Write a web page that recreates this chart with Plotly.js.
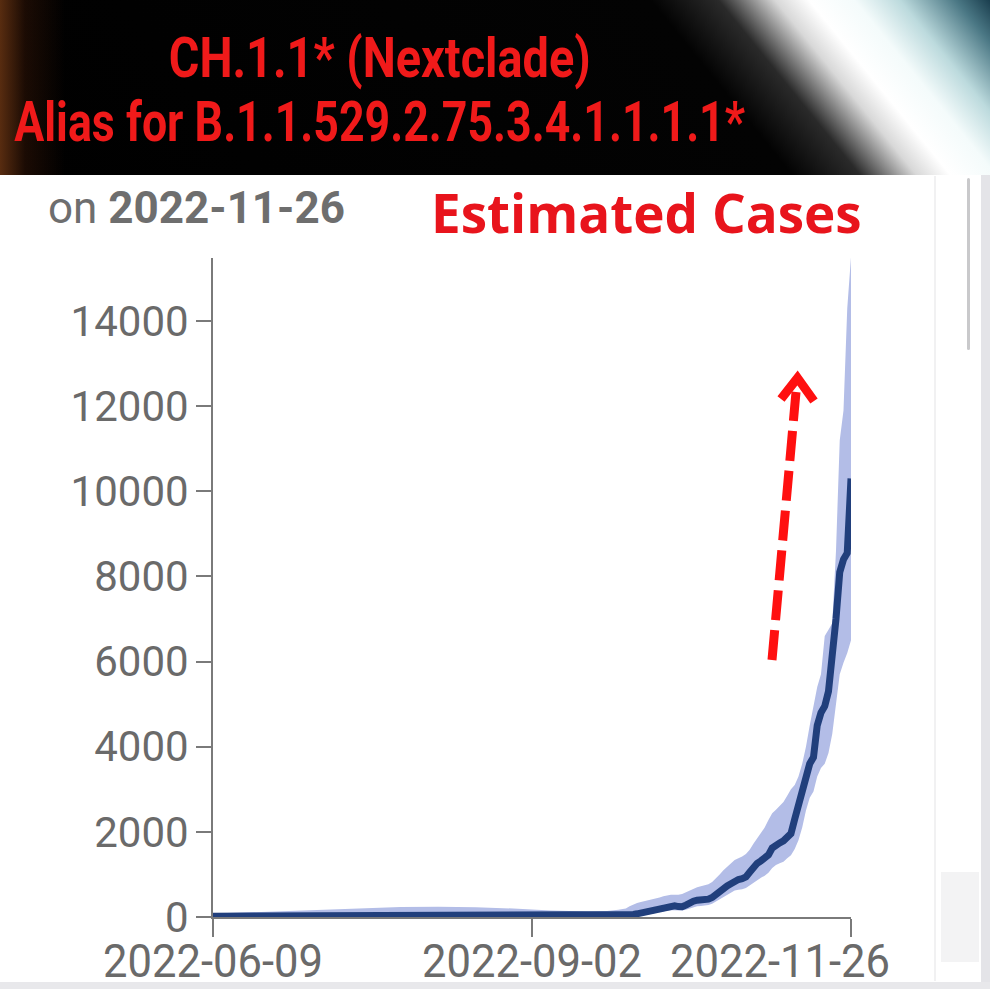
<!DOCTYPE html>
<html>
<head>
<meta charset="utf-8">
<script src="https://cdn.plot.ly/plotly-3.0.1.min.js"></script>
<style>
  html, body { margin:0; padding:0; background:#ffffff; }
  #wrap { position:relative; width:990px; height:989px; overflow:hidden; background:#ffffff; }
  .banner { position:absolute; left:0; top:0; width:990px; height:175px;
    background:
      linear-gradient(to right, rgba(110,55,20,0.8) 0px, rgba(60,25,8,0.45) 25px, rgba(0,0,0,0) 65px),
      linear-gradient(51deg, #000000 0%, #030303 70%, #2a2a2a 76%, #d8d8d8 81%, #ffffff 84%, #f4fbfb 88%, #bcdadd 92%, #4a7784 97%, #1a3e4e 100%);
  }
  .rstrip { position:absolute; left:981px; top:175px; width:9px; height:814px; background:#e4e4e8; }
  .bstrip { position:absolute; left:0; top:982px; width:990px; height:7px; background:#e8e8eb; }
  .cardedge { position:absolute; left:934px; top:176px; width:2px; height:805px; background:#f1f1f2; }
  .scroll { position:absolute; left:967px; top:178px; width:3px; height:172px; background:#c9c9cb; border-radius:2px; }
  .box { position:absolute; left:941px; top:872px; width:38px; height:90px; background:#f3f3f4; }
  #chart { position:absolute; left:0; top:0; width:990px; height:989px; }
</style>
</head>
<body>
<div id="wrap">
  <div class="banner"></div>
  <div class="rstrip"></div>
  <div class="bstrip"></div>
  <div class="cardedge"></div>
  <div class="scroll"></div>
  <div class="box"></div>
  <div id="chart"></div>
</div>
<script>
// Dates (sparse early, daily from 2022-09-27)
const dates = [
  '2022-06-09','2022-06-19','2022-06-29','2022-07-09','2022-07-19','2022-07-29','2022-08-08',
  '2022-08-18','2022-08-28','2022-09-07','2022-09-17','2022-09-22','2022-09-25',
  '2022-09-27','2022-09-28','2022-09-29','2022-09-30',
  '2022-10-01','2022-10-02','2022-10-03','2022-10-04','2022-10-05','2022-10-06','2022-10-07','2022-10-08',
  '2022-10-09','2022-10-10','2022-10-11','2022-10-12','2022-10-13','2022-10-14','2022-10-15','2022-10-16',
  '2022-10-17','2022-10-18','2022-10-19','2022-10-20','2022-10-21','2022-10-22','2022-10-23','2022-10-24',
  '2022-10-25','2022-10-26','2022-10-27','2022-10-28','2022-10-29','2022-10-30','2022-10-31',
  '2022-11-01','2022-11-02','2022-11-03','2022-11-04','2022-11-05','2022-11-06','2022-11-07','2022-11-08',
  '2022-11-09','2022-11-10','2022-11-11','2022-11-12','2022-11-13','2022-11-14','2022-11-15','2022-11-16',
  '2022-11-17','2022-11-18','2022-11-19','2022-11-20','2022-11-21','2022-11-22','2022-11-23','2022-11-24',
  '2022-11-25','2022-11-26'
];

const estimatedCases = [
  20,22,25,28,30,32,33,32,30,28,30,32,35,
  40,50,60,75,95,115,140,165,190,215,
  235,250,270,265,245,240,280,340,370,395,
  400,400,420,460,540,620,690,730,780,850,
  880,900,940,1050,1180,1260,1320,1380,1460,1620,
  1700,1740,1790,1860,1960,2300,2620,2920,3250,3600,
  3750,4500,4800,4950,5300,6000,7000,8100,8400,8550,
  10300
];

const upperBound = [
  80,110,140,180,210,235,240,230,200,150,130,140,170,
  200,250,300,330,350,370,390,410,430,460,
  490,510,520,520,520,540,580,630,670,700,
  720,740,770,820,900,1000,1100,1180,1260,1340,
  1380,1420,1480,1580,1720,1850,1950,2100,2280,2440,
  2520,2600,2700,2850,3000,3100,3300,3600,4000,4500,
  5000,5400,5700,6600,6750,6900,8600,11200,11900,14300,
  15500
];

const lowerBound = [
  0,0,0,0,0,0,0,0,0,0,0,0,0,
  5,10,15,20,30,45,60,80,100,120,
  130,145,160,160,150,150,170,200,230,250,
  260,270,280,310,360,420,480,520,560,620,
  640,650,680,740,820,880,920,970,1040,1150,
  1220,1260,1300,1380,1450,1600,1800,2100,2500,2800,
  2950,3300,3500,3600,3850,4300,5000,5700,5970,6200,
  6500
];

const xTickVals = ['2022-06-09','2022-09-02','2022-11-26'];
const xTickText = ['2022-06-09','2022-09-02','2022-11-26'];
const yTickVals = [0,2000,4000,6000,8000,10000,12000,14000];
const yTickText = ['0','2000','4000','6000','8000','10000','12000','14000'];

const traces = [
  { x: dates, y: lowerBound, type:'scatter', mode:'lines', line:{width:0, color:'#b2bde6'},
    hoverinfo:'skip', showlegend:false },
  { x: dates, y: upperBound, type:'scatter', mode:'lines', line:{width:0, color:'#b2bde6'},
    fill:'tonexty', fillcolor:'#b3bde7', hoverinfo:'skip', showlegend:false },
  { x: dates, y: estimatedCases, type:'scatter', mode:'lines',
    line:{width:7, color:'#213f7c'}, showlegend:false }
];

// plot area in px: left 213, right 851, top 258, bottom 917
function px(x){ return (x-213)/638; }
function py(y){ return (917-y)/659; }

const layout = {
  width:990, height:989,
  margin:{l:213, r:139, t:258, b:72, pad:0},
  paper_bgcolor:'rgba(0,0,0,0)',
  plot_bgcolor:'rgba(0,0,0,0)',
  showlegend:false,
  xaxis:{
    type:'date', range:['2022-06-09','2022-11-26'],
    tickmode:'array', tickvals:xTickVals, ticktext:xTickText,
    showgrid:false, zeroline:false, showline:true, linecolor:'#7a7a7a', linewidth:2,
    ticks:'outside', ticklen:18, tickwidth:2, tickcolor:'#7a7a7a',
    tickfont:{family:'Roboto, sans-serif', size:46, color:'#6a6a6a'},
    ticklabelstandoff:-15, layer:'below traces'
  },
  yaxis:{
    range:[0,15480], tickmode:'array', tickvals:yTickVals, ticktext:yTickText,
    showgrid:false, zeroline:false, showline:true, linecolor:'#7a7a7a', linewidth:2,
    ticks:'outside', ticklen:15, tickwidth:2, tickcolor:'#7a7a7a',
    tickfont:{family:'Roboto, sans-serif', size:42, color:'#6a6a6a'},
    ticklabelstandoff:-1, layer:'below traces'
  },
  annotations:[
    { text:'CH.1.1* (Nextclade)', xref:'paper', yref:'paper', x:px(379), y:py(58),
      xanchor:'center', yanchor:'middle', showarrow:false,
      font:{family:'Roboto, sans-serif', size:55, color:'#f01a1a', weight:700} },
    { text:'Alias for B.1.1.529.2.75.3.4.1.1.1.1*', xref:'paper', yref:'paper', x:px(379), y:py(122),
      xanchor:'center', yanchor:'middle', showarrow:false,
      font:{family:'Roboto, sans-serif', size:55, color:'#f01a1a', weight:700} },
    { text:'on <b>2022-11-26</b>', xref:'paper', yref:'paper', x:px(46), y:py(208),
      xanchor:'left', yanchor:'middle', showarrow:false,
      font:{family:'Roboto, sans-serif', size:44, color:'#6e6e6e'} },
    { text:'<b>Estimated Cases</b>', xref:'paper', yref:'paper', x:px(646), y:py(212),
      xanchor:'center', yanchor:'middle', showarrow:false,
      font:{family:'"Open Sans", Roboto, sans-serif', size:53, color:'#e8141c'} }
  ],
  shapes:[
    { type:'line', xref:'paper', yref:'paper', x0:px(772), y0:py(660), x1:px(796), y1:py(392),
      line:{color:'#ff1010', width:9, dash:'30px,10px'}, layer:'above' },
    { type:'path', xref:'paper', yref:'paper',
      path:'M'+px(781)+','+py(399)+' L'+px(797.5)+','+py(378)+' L'+px(814)+','+py(401),
      line:{color:'#ff1010', width:9}, layer:'above' }
  ]
};

// horizontally condense a rendered text element to a target width (keeps it real text),
// optionally shifting it sideways first
function squeeze(el, targetW, dx) {
  if (!el) return;
  const bb = el.getBBox();
  if (!bb.width) return;
  const s = targetW / bb.width;
  const cx = bb.x + bb.width / 2;
  const t = el.getAttribute('transform') || '';
  el.setAttribute('transform', t + ' translate(' + (dx || 0) + ',0) translate(' + cx + ',0) scale(' + s + ',1) translate(' + (-cx) + ',0)');
}

Plotly.newPlot('chart', traces, layout, {displayModeBar:false, staticPlot:true}).then(function(gd){
  squeeze(gd.querySelector('.annotation[data-index="0"] text.annotation-text'), 422, 0);
  squeeze(gd.querySelector('.annotation[data-index="1"] text.annotation-text'), 731, 0);
  const xl = gd.querySelectorAll('.xtick text');
  xl.forEach(function(el, i){ squeeze(el, 220, i === xl.length - 1 ? -71 : 0); });
});
</script>
</body>
</html>
